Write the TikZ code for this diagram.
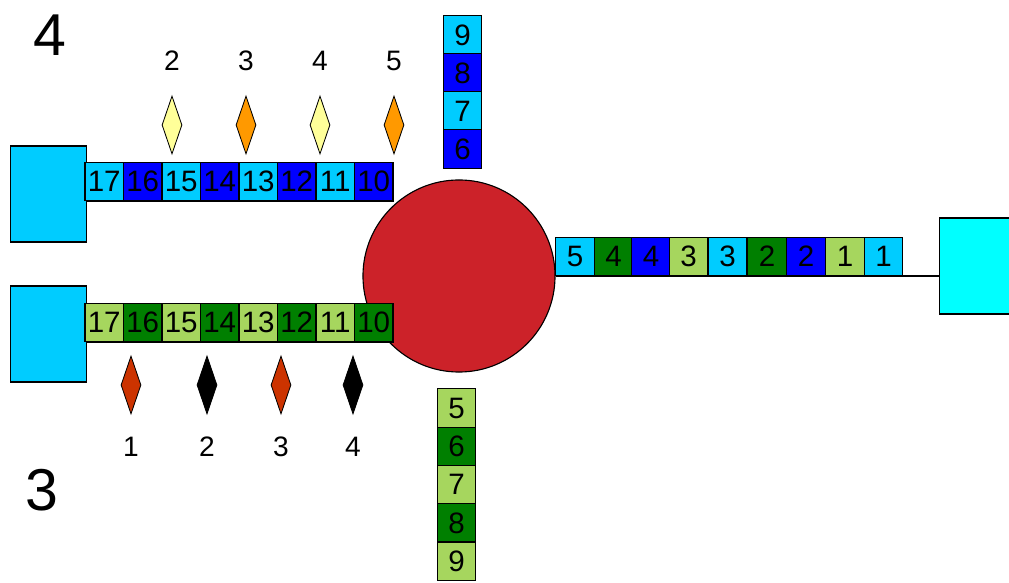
\documentclass[tikz,border=0pt]{standalone}
\usepackage{fontspec}
\setmainfont{Liberation Sans}
\usepackage{tikz}
\usetikzlibrary{positioning,shapes}
\definecolor{boxcyan}{HTML}{00CCFF}
\definecolor{boxblue}{HTML}{0000FF}
\definecolor{lgreen}{HTML}{A6D65E}
\definecolor{dgreen}{HTML}{007F00}
\definecolor{hubred}{HTML}{CC2229}
\definecolor{endcyan}{HTML}{00FFFF}
\definecolor{pyellow}{HTML}{FFFF99}
\definecolor{porange}{HTML}{FF9900}
\definecolor{rust}{HTML}{CC3300}
\tikzset{
  cell/.style={draw, line width=0.8pt, minimum size=0.96cm, inner sep=0pt, font=\fontsize{21}{23}\selectfont},
  block/.style={draw, line width=0.8pt, minimum width=1.92cm, minimum height=2.4cm, inner sep=0pt},
  spike/.style={diamond, draw, line width=0.6pt, inner sep=0pt, minimum width=0.5cm, minimum height=1.45cm},
  tag/.style={font=\fontsize{20}{22}\selectfont},
  big/.style={font=\fontsize{42}{44}\selectfont}
}
\begin{document}
\begin{tikzpicture}[x=0.025cm, y=-0.025cm]
\useasboundingbox (0,0) rectangle (1009,583);

\node[circle, draw, line width=0.8pt, fill=hubred, minimum size=4.8cm, inner sep=0pt] (hub) at (459,276) {};
\node[block, fill=boxcyan] (urect) at (48.5,194) {};
\node[block, fill=boxcyan] (lrect) at (48.5,334) {};
\node[block, fill=endcyan] (rrect) at (978,266) {};

\foreach \n/\c [count=\i from 0] in {17/boxcyan,16/boxblue,15/boxcyan,14/boxblue,13/boxcyan,12/boxblue,11/boxcyan,10/boxblue}
  {\node[cell, fill=\c] (up\n) at (104.25+38.5*\i,181.5) {\n};}
\foreach \n/\c [count=\i from 0] in {17/lgreen,16/dgreen,15/lgreen,14/dgreen,13/lgreen,12/dgreen,11/lgreen,10/dgreen}
  {\node[cell, fill=\c] (lo\n) at (104.25+38.5*\i,322.5) {\n};}
\foreach \n/\c [count=\i from 0] in {9/boxcyan,8/boxblue,7/boxcyan,6/boxblue}
  {\node[cell, fill=\c] (top\n) at (462.5,35+38*\i) {\n};}
\foreach \n/\c [count=\i from 0] in {5/lgreen,6/dgreen,7/lgreen,8/dgreen,9/lgreen}
  {\node[cell, fill=\c] (bot\n) at (456.5,408+38.3*\i) {\n};}
\foreach \n/\c/\x [count=\i] in {5/boxcyan/575,4/dgreen/613.5,4/boxblue/651,3/lgreen/688.5,3/boxcyan/727.5,2/dgreen/767,2/boxblue/806,1/lgreen/845,1/boxcyan/883.5}
  {\node[cell, fill=\c] (rt\i) at (\x,256.5) {\n};}

\draw[line width=0.8pt] (urect.east |- up17.south) -- (up10.south east);
\draw[line width=0.8pt] (lrect.east |- lo17.south) -- (lo10.south east);
\draw[line width=0.8pt] (hub.east) -- (rrect.west |- hub.east);

\foreach \n/\c/\x in {2/pyellow/172,3/porange/246,4/pyellow/320,5/porange/394}
  {\node[spike, fill=\c] (us\n) at (\x,125) {};
   \node[tag] (ut\n) at (\x,61) {\n};}
\foreach \n/\c/\x in {1/rust/131,2/black/207,3/rust/281,4/black/353}
  {\node[spike, fill=\c] (ls\n) at (\x,385) {};
   \node[tag] (lt\n) at (\x,447) {\n};}

\node[big] (num4) at (50,35) {4};
\node[big] (num3) at (42,490) {3};
\end{tikzpicture}
\end{document}
